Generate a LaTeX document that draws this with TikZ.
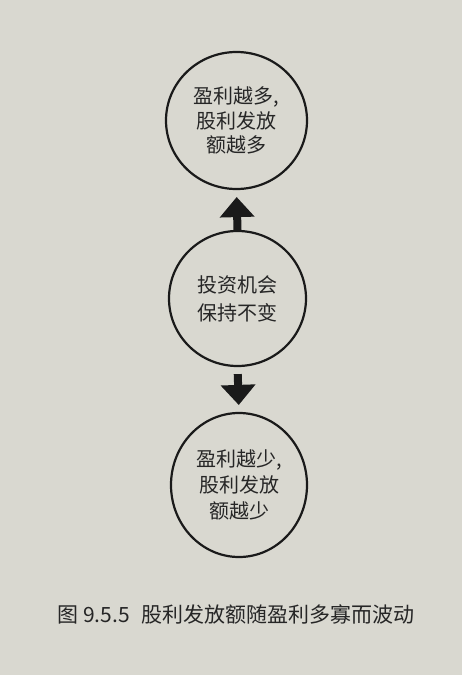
\documentclass[tikz,border=0pt]{standalone}
\usepackage{fontspec}
\setmainfont{Noto Sans CJK SC}
\usetikzlibrary{arrows.meta,shapes.geometric}
\definecolor{paper}{HTML}{D9D8D0}
\definecolor{ink}{HTML}{1A1A1A}
\definecolor{txt}{HTML}{262626}
\begin{document}
\begin{tikzpicture}[x=1pt,y=-1pt,
  bubble/.style={ellipse, draw=ink, line width=2.2pt, inner sep=0pt, align=center,
    text=txt, font=\fontsize{20}{24.5}\selectfont},
  bigarrow/.style={draw=ink, line width=8pt,
    -{Triangle[width=35pt,length=20pt,line width=0pt]}},
  captext/.style={text=txt, font=\fontsize{21}{24}\selectfont, inner sep=0pt}]
\fill[paper] (0,0) rectangle (462,675);
\useasboundingbox (0,0) rectangle (462,675);
\node[bubble, minimum width=141pt, minimum height=137pt] (top) at (236.5,120.5) {盈利越多,\\股利发放\\额越多};
\node[bubble, minimum width=137pt, minimum height=135pt, font=\fontsize{20}{28}\selectfont] (mid) at (237.5,298.5) {投资机会\\保持不变};
\node[bubble, minimum width=136pt, minimum height=144pt, font=\fontsize{20}{26}\selectfont] (bot) at (239,485) {盈利越少,\\股利发放\\额越少};
\draw[bigarrow, shorten >=7pt] (mid.north) -- (top.south);
\draw[bigarrow, shorten <=7pt, shorten >=7pt] (mid.south) -- (bot.north);
\node[captext, anchor=west] (cap) at (57,614) {图\hspace{5pt}9.5.5\hspace{12pt}股利发放额随盈利多寡而波动};
\end{tikzpicture}
\end{document}
